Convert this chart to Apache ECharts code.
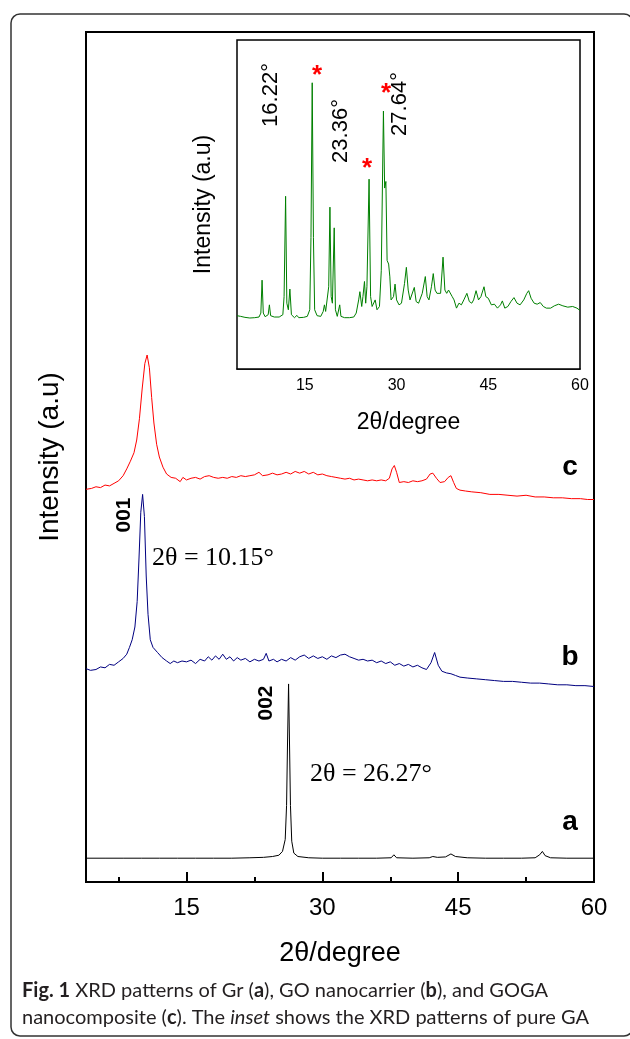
<!DOCTYPE html>
<html>
<head>
<meta charset="utf-8">
<script src="https://cdn.jsdelivr.net/npm/echarts@6/dist/echarts.min.js"></script>
<style>
  html, body { margin: 0; padding: 0; background: #fff; }
  #chart { width: 630px; height: 1039px; }
</style>
</head>
<body>
<div id="chart"></div>
<script>
// 2theta range shared by both panels
const xMin = 3.9;
const xMax = 60;
const majorTicks = [15, 30, 45];
const tickLabels = [15, 30, 45, 60];
const minorTicks = [7.5, 22.5, 37.5, 52.5];

// curve a: Gr
const grData = [
  [3.9,2.8],[6,2.8],[8,2.8],[10,2.8],[12,2.8],[14,2.8],[16,2.8],[18,2.8],[20,2.8],[22,2.85],
  [23.5,2.9],[24.5,3.0],[25.2,3.15],[25.6,3.6],[25.9,5],[26.05,9],[26.15,16],[26.27,23.3],
  [26.38,16],[26.48,9],[26.62,4.8],[26.85,3.4],[27.3,3.0],[28.5,2.85],[30,2.8],[32,2.8],
  [34,2.8],[36,2.8],[37.6,2.85],[37.9,3.2],[38.2,2.85],[40,2.8],[41.8,2.85],[42.2,3.0],
  [42.7,2.9],[43.6,2.95],[44.2,3.3],[44.7,3.0],[46,2.85],[48,2.8],[50,2.8],[52,2.8],
  [53.5,2.85],[54.0,3.2],[54.3,3.6],[54.6,3.1],[55.2,2.85],[57,2.8],[60,2.8]
];

// curve b: GO nanocarrier
const goData = [
  [3.9,25.1],[4.4,24.9],[5.0,25.0],[5.5,25.3],[6.0,25.2],[6.5,25.6],[7.0,25.5],[7.5,25.9],
  [8.0,26.3],[8.4,26.8],[8.7,27.6],[9.0,28.5],[9.3,30],[9.55,33],[9.75,38],[9.95,43.5],
  [10.15,45.6],[10.35,43],[10.55,36],[10.75,31.5],[11.0,28.5],[11.3,27.6],[11.8,27.0],
  [12.3,26.4],[12.8,26.0],[13.2,25.7],[13.6,26.0],[14.0,25.8],[14.5,26.0],[15.0,25.9],
  [15.5,26.1],[16.0,25.7],[16.5,26.2],[17.0,26.0],[17.4,26.5],[17.8,26.1],[18.2,26.6],
  [18.6,26.2],[19.0,26.8],[19.4,26.2],[19.8,26.5],[20.2,26.0],[20.6,26.4],[21.0,26.1],
  [21.5,26.3],[22.0,25.9],[22.5,26.2],[23.0,26.0],[23.5,26.2],[23.8,26.9],[24.1,26.0],
  [24.6,26.2],[25.0,25.9],[25.5,26.2],[26.0,26.0],[26.5,26.4],[27.0,26.1],[27.5,26.5],
  [28.0,26.7],[28.5,26.3],[29.0,26.6],[29.5,26.3],[30.0,26.5],[30.5,26.2],[31.0,26.6],
  [31.5,26.4],[32.0,26.7],[32.5,26.8],[33.0,26.5],[33.5,26.3],[34.0,26.1],[34.5,26.2],
  [35.0,26.0],[35.5,26.1],[36.0,25.8],[36.5,26.0],[37.0,25.7],[37.5,25.9],[38.0,25.5],
  [38.5,25.7],[39.0,25.4],[39.5,25.6],[40.0,25.3],[40.5,25.5],[41.0,25.2],[41.5,25.0],
  [42.0,25.8],[42.4,27.0],[42.8,25.5],[43.2,24.8],[43.7,24.6],[44.2,24.5],[44.7,24.3],
  [45.2,24.1],[46,24.0],[47,23.9],[48,23.8],[49,23.7],[50,23.6],[51,23.6],[52,23.5],
  [53,23.4],[54,23.4],[55,23.3],[56,23.2],[57,23.2],[58,23.1],[59,23.1],[60,23.0]
];

// curve c: GOGA nanocomposite
const gogaData = [
  [3.9,46.2],[4.5,46.3],[5.0,46.5],[5.5,46.4],[6.0,46.7],[6.5,46.6],[7.0,46.9],[7.5,47.2],
  [8.0,47.8],[8.4,48.6],[8.8,49.5],[9.2,50.5],[9.5,52],[9.8,54.5],[10.1,58],[10.4,61],
  [10.65,62],[10.9,60.5],[11.15,57],[11.4,54],[11.7,51.5],[12.0,50],[12.4,48.8],[12.8,48],
  [13.3,47.6],[13.8,47.5],[14.3,47.1],[14.6,47.6],[15.0,47.3],[15.5,47.5],[16.0,47.6],
  [16.5,47.4],[17.0,47.7],[17.5,47.8],[18.0,47.6],[18.5,47.5],[19.0,47.6],[19.5,47.5],
  [20.0,47.7],[20.5,47.6],[21.0,47.8],[21.5,47.7],[22.0,47.8],[22.5,47.9],[23.0,48.2],
  [23.4,47.8],[24.0,47.9],[24.5,48.1],[25.0,47.9],[25.5,48.0],[26.0,48.2],[26.5,48.0],
  [27.0,48.3],[27.5,48.1],[28.0,48.3],[28.5,48.0],[29.0,48.2],[29.5,47.9],[30.0,48.0],
  [30.5,47.8],[31.0,47.7],[31.5,47.6],[32.0,47.5],[32.5,47.4],[33.0,47.5],[33.5,47.3],
  [34.0,47.4],[34.5,47.3],[35.0,47.2],[35.5,47.3],[36.0,47.2],[36.5,47.3],[37.0,47.2],
  [37.4,47.5],[37.7,48.6],[37.95,49.0],[38.2,48.2],[38.5,47.0],[39.0,47.1],[39.5,47.0],
  [40.0,47.2],[40.5,47.1],[41.0,47.2],[41.5,47.4],[41.9,48.0],[42.2,48.1],[42.6,47.5],
  [43.0,47.0],[43.5,47.1],[43.9,47.6],[44.2,47.8],[44.5,47.0],[44.8,46.3],[45.2,46.1],
  [45.8,46.0],[46.5,45.9],[47.5,45.8],[48.5,45.6],[49.5,45.6],[50.5,45.5],[51.5,45.4],
  [52.5,45.5],[53.5,45.3],[54.5,45.3],[55.5,45.2],[56.5,45.2],[57.5,45.1],[58.5,45.1],
  [59.3,45.0],[60,45.0]
];

// inset: pure GA
const gaData = [
  [3.9,16.2],[4.5,16],[5.2,15.7],[6,15.5],[6.8,15.6],[7.5,15.8],[7.8,17],[8.0,27],[8.2,17],
  [8.5,15.9],[9.0,16.5],[9.2,19.5],[9.4,16.2],[10,15.8],[10.8,15.8],[11.4,16.5],[11.6,22],
  [11.85,52.5],[12.05,20],[12.3,18],[12.55,24.3],[12.8,16.5],[13.3,15.6],[13.7,16.3],
  [14,15.6],[14.8,15.7],[15.4,16],[15.8,18],[16.0,40],[16.2,87],[16.4,40],[16.6,18],
  [17,16.2],[17.6,16],[18.0,17.5],[18.2,19.5],[18.4,17.5],[18.7,18],[18.9,25],[19.1,49.2],
  [19.3,22],[19.5,20],[19.8,42.9],[20.0,18],[20.3,16],[20.7,19.5],[20.9,16],[21.5,15.6],
  [22.3,15.6],[23.0,15.8],[23.4,17],[23.8,21],[24.0,23.5],[24.3,19],[24.5,22],[24.75,26.6],
  [24.95,20],[25.15,25],[25.5,57.7],[25.75,22],[26.0,19],[26.5,21],[26.8,18],[27.2,19],
  [27.5,30],[27.85,78.4],[28.05,55],[28.25,57],[28.45,33],[28.7,31.9],[28.9,28],[29.1,21],
  [29.5,22],[29.75,25.8],[30.0,21],[30.4,19.5],[30.8,20],[31.3,26],[31.6,30.9],[31.9,24],
  [32.2,21],[32.5,21],[32.9,24.8],[33.2,20.5],[33.6,20],[34.2,23],[34.7,28.1],[35.0,22],
  [35.3,21],[35.7,25],[36.0,29],[36.3,24],[36.6,23],[36.9,22.7],[37.2,23],[37.6,34],
  [37.9,24],[38.2,23],[38.5,24],[38.8,23.4],[39.1,22],[39.4,21],[39.8,18.5],[40.2,20],
  [40.6,19.5],[41.0,21],[41.5,23],[41.9,20.5],[42.3,20],[42.6,21],[43.0,23.8],[43.4,21],
  [43.8,22],[44.3,25],[44.6,22],[45.0,21.5],[45.5,19.5],[46.0,19.7],[46.5,18.5],[47.0,19.5],
  [47.3,20.7],[47.7,18.5],[48.2,19],[48.7,20.5],[49.2,21.7],[49.7,20],[50.2,19.5],[50.8,21],
  [51.3,23],[51.6,23.8],[52.0,21.5],[52.5,20],[53.0,19.7],[53.5,20.2],[54.0,19],[54.5,18.5],
  [55.2,18.5],[55.8,19.2],[56.5,19.7],[57.2,19.2],[58,18.8],[58.8,19],[59.5,18.5],[60,17.8]
];

const chart = echarts.init(document.getElementById('chart'));

const sans = 'Liberation Sans, Arial, sans-serif';
const serif = 'Liberation Serif, Times New Roman, serif';
const capFont = 'Lato';

// major axis (labels + long ticks) and minor axis (short ticks only) for one grid
function xAxes(grid, major) {
  return [
    {
      gridIndex: grid, type: 'value', position: 'bottom', min: xMin, max: xMax,
      axisLine: { show: true, lineStyle: { color: '#000', width: major.lw } },
      axisTick: { inside: true, length: major.tick, customValues: majorTicks, lineStyle: { color: '#000', width: major.lw } },
      axisLabel: { customValues: tickLabels, fontSize: major.font, color: '#000', fontFamily: sans, margin: major.margin },
      splitLine: { show: false },
      name: '2θ/degree', nameLocation: 'middle', nameGap: major.nameGap,
      nameTextStyle: { fontSize: major.nameFont, color: '#000', fontFamily: sans }
    },
    {
      gridIndex: grid, type: 'value', position: 'bottom', min: xMin, max: xMax,
      axisLine: { show: false },
      axisTick: { inside: true, length: major.tick / 2, customValues: minorTicks, lineStyle: { color: '#000', width: major.lw } },
      axisLabel: { show: false },
      splitLine: { show: false }
    }
  ];
}

const option = {
  animation: false,
  backgroundColor: '#fff',
  grid: [
    { left: 86, top: 32, width: 508, height: 850, show: true, borderColor: '#000', borderWidth: 2, backgroundColor: 'transparent' },
    { left: 237, top: 40, width: 343, height: 329, show: true, borderColor: '#000', borderWidth: 1.5, backgroundColor: '#fff', z: 5 }
  ],
  xAxis: [
    ...xAxes(0, { lw: 2, tick: 10, font: 24, margin: 14, nameGap: 58, nameFont: 27 }),
    ...xAxes(1, { lw: 1.5, tick: 7, font: 16, margin: 9, nameGap: 42, nameFont: 23 })
  ],
  yAxis: [
    {
      gridIndex: 0, type: 'value', min: 0, max: 100,
      axisLine: { show: false }, axisTick: { show: false }, axisLabel: { show: false }, splitLine: { show: false },
      name: 'Intensity (a.u)', nameLocation: 'middle', nameGap: 22,
      nameTextStyle: { fontSize: 28, color: '#000', fontFamily: sans }
    },
    {
      gridIndex: 1, type: 'value', min: 0, max: 100,
      axisLine: { show: false }, axisTick: { show: false }, axisLabel: { show: false }, splitLine: { show: false },
      name: 'Intensity (a.u)', nameLocation: 'middle', nameGap: 22,
      nameTextStyle: { fontSize: 23, color: '#000', fontFamily: sans }
    }
  ],
  series: [
    { name: 'a', type: 'line', xAxisIndex: 0, yAxisIndex: 0, data: grData, showSymbol: false, lineStyle: { color: '#000', width: 1 } },
    { name: 'b', type: 'line', xAxisIndex: 0, yAxisIndex: 0, data: goData, showSymbol: false, lineStyle: { color: '#000080', width: 1 } },
    { name: 'c', type: 'line', xAxisIndex: 0, yAxisIndex: 0, data: gogaData, showSymbol: false, lineStyle: { color: '#ff0000', width: 1 } },
    { name: 'GA', type: 'line', xAxisIndex: 2, yAxisIndex: 1, data: gaData, showSymbol: false, z: 6, lineStyle: { color: '#008000', width: 1 } }
  ],
  graphic: [
    // caption box
    { type: 'rect', shape: { x: 11, y: 14, width: 622, height: 1022, r: 9 }, style: { fill: 'none', stroke: '#333', lineWidth: 1.5 }, z: 0 },
    // curve letters
    { type: 'text', x: 570, y: 467, style: { text: 'c', font: 'bold 28px ' + sans, fill: '#000', align: 'center', verticalAlign: 'middle' } },
    { type: 'text', x: 570, y: 657, style: { text: 'b', font: 'bold 28px ' + sans, fill: '#000', align: 'center', verticalAlign: 'middle' } },
    { type: 'text', x: 570, y: 822, style: { text: 'a', font: 'bold 28px ' + sans, fill: '#000', align: 'center', verticalAlign: 'middle' } },
    // peak labels
    { type: 'text', x: 124, y: 515, rotation: Math.PI / 2, style: { text: '001', font: 'bold 21px ' + sans, fill: '#000', align: 'center', verticalAlign: 'middle' } },
    { type: 'text', x: 266, y: 703, rotation: Math.PI / 2, style: { text: '002', font: 'bold 21px ' + sans, fill: '#000', align: 'center', verticalAlign: 'middle' } },
    { type: 'text', x: 152, y: 558, style: { text: '2θ = 10.15°', font: '26px ' + serif, fill: '#000', align: 'left', verticalAlign: 'middle' } },
    { type: 'text', x: 310, y: 774, style: { text: '2θ = 26.27°', font: '26px ' + serif, fill: '#000', align: 'left', verticalAlign: 'middle' } },
    // inset labels
    { type: 'text', x: 271, y: 95, z: 20, rotation: Math.PI / 2, style: { text: '16.22°', font: '22px ' + sans, fill: '#000', align: 'center', verticalAlign: 'middle' } },
    { type: 'text', x: 341, y: 131, z: 20, rotation: Math.PI / 2, style: { text: '23.36°', font: '22px ' + sans, fill: '#000', align: 'center', verticalAlign: 'middle' } },
    { type: 'text', x: 400, y: 104, z: 20, rotation: Math.PI / 2, style: { text: '27.64°', font: '22px ' + sans, fill: '#000', align: 'center', verticalAlign: 'middle' } },
    { type: 'text', x: 317, y: 76, z: 20, style: { text: '*', font: 'bold 26px ' + sans, fill: '#ff0000', align: 'center', verticalAlign: 'middle' } },
    { type: 'text', x: 367, y: 169, z: 20, style: { text: '*', font: 'bold 26px ' + sans, fill: '#ff0000', align: 'center', verticalAlign: 'middle' } },
    { type: 'text', x: 386, y: 94, z: 20, style: { text: '*', font: 'bold 26px ' + sans, fill: '#ff0000', align: 'center', verticalAlign: 'middle' } },
    // caption
    {
      type: 'text', x: 22, y: 977,
      style: {
        text: '{b|Fig. 1} XRD patterns of Gr ({b|a}), GO nanocarrier ({b|b}), and GOGA\nnanocomposite ({b|c}). The {i|inset} shows the XRD patterns of pure GA',
        font: '20px ' + capFont, fill: '#231f20', lineHeight: 27,
        rich: {
          b: { fontWeight: 'bold', fontFamily: capFont, fontSize: 20, fill: '#231f20' },
          i: { fontStyle: 'italic', fontFamily: capFont, fontSize: 20, fill: '#231f20' }
        }
      }
    }
  ]
};

chart.setOption(option);
</script>
</body>
</html>
